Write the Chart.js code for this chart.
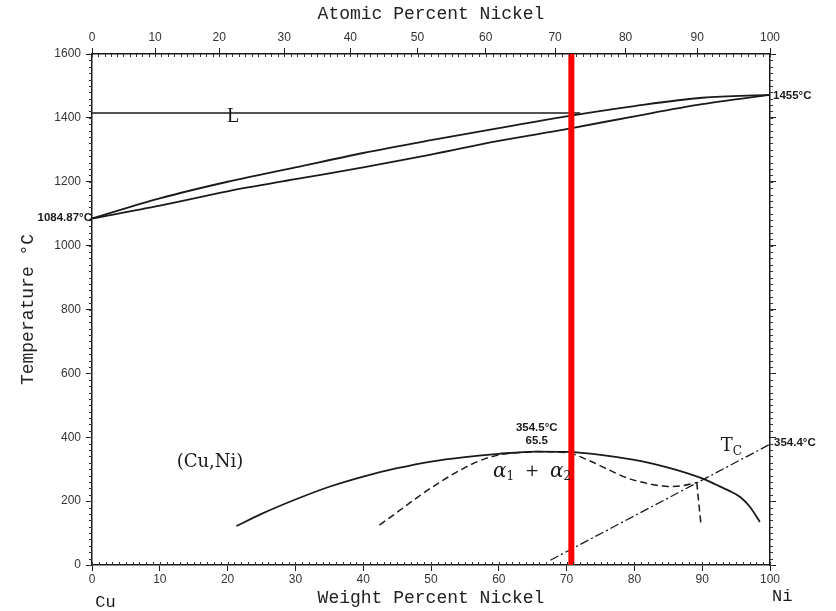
<!DOCTYPE html>
<html>
<head>
<meta charset="utf-8">
<script src="https://cdn.jsdelivr.net/npm/chart.js@4.4.1/dist/chart.umd.min.js"></script>
<style>
  html, body { margin: 0; padding: 0; background: #fff; }
</style>
</head>
<body>
<canvas id="cuNiChart" width="836" height="611"></canvas>
<script>
// Cu-Ni phase diagram, wt% Ni against temperature (C)
const boundaryWt = [0, 10, 20, 30, 40, 50, 60, 70, 80, 90, 100];
const liquidusT = [1085, 1148, 1200, 1245, 1290, 1330, 1368, 1405, 1437, 1463, 1472];
const solidusT = [1085, 1125, 1170, 1208, 1245, 1285, 1328, 1365, 1405, 1443, 1472];

// miscibility gap (solid line)
const gapWt = [21.3, 25, 30, 35, 40, 45, 50, 55, 60, 65.5, 70, 75, 80, 85, 90, 92, 94, 95.6, 97, 98.5];
const gapT = [122, 160, 205, 245, 277, 303, 324, 338, 348, 355, 354, 345, 329, 305, 271, 252, 232, 213, 183, 135];

// dashed lines inside the gap
const spinLeftWt = [42.4, 45, 48, 51, 55, 58, 61, 65.5];
const spinLeftT = [125, 165, 212, 255, 305, 333, 348, 355];
const spinRightWt = [65.5, 70, 73, 76, 79, 82, 85, 87, 89.2];
const spinRightT = [355, 352, 330, 300, 272, 255, 246, 248, 258];
const spinDropWt = [89.2, 89.8];
const spinDropT = [258, 130];

// magnetic transition Tc (dash-dot)
const curieWt = [67.6, 100];
const curieT = [15, 378];

// horizontal tie line and red marker
const tieWt = [0, 72];
const tieT = [1415, 1415];
const markerWt = [70.7, 70.7];
const markerT = [0, 1600];

const tempTicks = [0, 200, 400, 600, 800, 1000, 1200, 1400, 1600];
const weightTicks = [0, 10, 20, 30, 40, 50, 60, 70, 80, 90, 100];
const atomicTicks = [0, 10, 20, 30, 40, 50, 60, 70, 80, 90, 100];

const NI_MASS = 58.69;
const CU_MASS = 63.546;
const atToWt = (a) => 100 * a * NI_MASS / (a * NI_MASS + (100 - a) * CU_MASS);

const pts = (xs, ys) => xs.map((x, i) => ({ x, y: ys[i] }));

const INK = '#1a1a1a';
const tickFont = { family: '"Liberation Sans Narrow", "Liberation Sans", sans-serif', size: 12 };
const titleFont = { family: '"Liberation Mono", monospace', size: 18 };

const line = (data, extra) => Object.assign({
  data,
  showLine: true,
  borderColor: INK,
  borderWidth: 1.8,
  pointRadius: 0,
  fill: false,
  tension: 0,
}, extra);

// small ticks every 1% and every 20 C
const minorTicks = {
  id: 'minorTicks',
  afterDraw(chart) {
    const { ctx, chartArea: a, scales } = chart;
    ctx.save();
    ctx.strokeStyle = '#333';
    ctx.lineWidth = 1;
    ctx.beginPath();
    for (let w = 0; w <= 100; w++) {
      const px = Math.round(scales.x.getPixelForValue(w)) + 0.5;
      ctx.moveTo(px, a.bottom);
      ctx.lineTo(px, a.bottom - 3);
      const pt = Math.round(scales.x2.getPixelForValue(atToWt(w))) + 0.5;
      ctx.moveTo(pt, a.top);
      ctx.lineTo(pt, a.top + 3);
    }
    for (let t = 0; t <= 1600; t += 20) {
      const py = Math.round(scales.y.getPixelForValue(t)) + 0.5;
      ctx.moveTo(a.left, py);
      ctx.lineTo(a.left - 3, py);
      ctx.moveTo(a.right, py);
      ctx.lineTo(a.right + 3, py);
    }
    ctx.stroke();
    ctx.restore();
  },
};

// text pieces: [text, font, dy]
const drawPieces = (ctx, pieces, x, y, align) => {
  let total = 0;
  pieces.forEach((p) => { ctx.font = p[1]; total += ctx.measureText(p[0]).width; });
  let cx = align === 'center' ? x - total / 2 : (align === 'right' ? x - total : x);
  ctx.textAlign = 'left';
  pieces.forEach((p) => {
    ctx.font = p[1];
    ctx.fillText(p[0], cx, y + (p[2] || 0));
    cx += ctx.measureText(p[0]).width;
  });
};

const annotations = {
  id: 'annotations',
  afterDraw(chart) {
    const { ctx, chartArea: a, scales } = chart;
    const X = (v) => scales.x.getPixelForValue(v);
    const Y = (v) => scales.y.getPixelForValue(v);
    const serif = '"DejaVu Serif", serif';
    const bold = 'bold 11.5px "Liberation Sans", sans-serif';
    ctx.save();
    ctx.fillStyle = INK;
    ctx.textBaseline = 'middle';

    drawPieces(ctx, [['L', '20px "Liberation Serif", serif']], X(20.8), Y(1402), 'center');
    drawPieces(ctx, [['(Cu,Ni)', '18px ' + serif]], X(17.4), Y(322), 'center');
    drawPieces(ctx, [['354.5°C', bold]], X(65.6), Y(429), 'center');
    drawPieces(ctx, [['65.5', bold]], X(65.6), Y(388), 'center');
    drawPieces(ctx, [
      ['α', 'italic 20px ' + serif],
      ['1', '12px ' + serif, 5],
      ['  +  ', '17px ' + serif],
      ['α', 'italic 20px ' + serif],
      ['2', '12px ' + serif, 5],
    ], X(64.9), Y(291), 'center');
    drawPieces(ctx, [
      ['T', '18px ' + serif],
      ['C', '12px ' + serif, 6],
    ], X(94.3), Y(372), 'center');
    drawPieces(ctx, [['354.4°C', bold]], a.right + 4, Y(382), 'left');
    drawPieces(ctx, [['1455°C', bold]], a.right + 3, Y(1468), 'left');
    drawPieces(ctx, [['1084.87°C', bold]], a.left, Y(1086), 'right');
    drawPieces(ctx, [['Cu', '17px "Liberation Mono", monospace']], X(2), a.bottom + 37, 'center');
    drawPieces(ctx, [['Ni', '17px "Liberation Mono", monospace']], X(101.8), a.bottom + 31, 'center');
    ctx.restore();
  },
};

const axisBase = (extra) => Object.assign({
  type: 'linear',
  border: { display: true, color: INK, width: 1.5 },
  grid: { drawOnChartArea: false, drawTicks: true, tickLength: 6, tickColor: INK, tickWidth: 1 },
}, extra);

new Chart(document.getElementById('cuNiChart').getContext('2d'), {
  type: 'scatter',
  data: {
    datasets: [
      line(pts(markerWt, markerT), { borderColor: '#ff0000', borderWidth: 6 }),
      line(pts(boundaryWt, liquidusT), { cubicInterpolationMode: 'monotone' }),
      line(pts(boundaryWt, solidusT), { cubicInterpolationMode: 'monotone' }),
      line(pts(tieWt, tieT), { borderWidth: 1.5 }),
      line(pts(gapWt, gapT), { cubicInterpolationMode: 'monotone' }),
      line(pts(spinLeftWt, spinLeftT), { borderDash: [7, 4], cubicInterpolationMode: 'monotone', borderWidth: 1.5 }),
      line(pts(spinRightWt, spinRightT), { borderDash: [7, 4], cubicInterpolationMode: 'monotone', borderWidth: 1.5 }),
      line(pts(spinDropWt, spinDropT), { borderDash: [7, 4], borderWidth: 1.5 }),
      line(pts(curieWt, curieT), { borderDash: [9, 3, 2, 3], borderWidth: 1.3 }),
    ],
  },
  options: {
    responsive: false,
    animation: false,
    layout: { padding: 0 },
    plugins: { legend: { display: false }, tooltip: { enabled: false } },
    scales: {
      x: axisBase({
        position: 'bottom',
        min: 0,
        max: 100,
        afterBuildTicks: (scale) => { scale.ticks = weightTicks.map((v) => ({ value: v })); },
        afterFit: (scale) => { scale.height = 46; },
        ticks: { font: tickFont, color: '#333', padding: 1, maxRotation: 0, autoSkip: false, callback: (v) => String(v) },
        title: { display: true, text: 'Weight Percent Nickel', font: titleFont, color: '#222', padding: { top: 0, bottom: 2 } },
      }),
      x2: axisBase({
        position: 'top',
        min: 0,
        max: 100,
        afterBuildTicks: (scale) => { scale.ticks = atomicTicks.map((a) => ({ value: atToWt(a) })); },
        afterFit: (scale) => { scale.height = 54; },
        ticks: { font: tickFont, color: '#333', padding: 3, maxRotation: 0, autoSkip: false, callback: (v, i) => String(atomicTicks[i]) },
        title: { display: true, text: 'Atomic Percent Nickel', font: titleFont, color: '#222', padding: { top: 3, bottom: 0 } },
      }),
      y: axisBase({
        position: 'left',
        min: 0,
        max: 1600,
        afterBuildTicks: (scale) => { scale.ticks = tempTicks.map((v) => ({ value: v })); },
        afterFit: (scale) => { scale.width = 92; },
        ticks: { font: tickFont, color: '#333', padding: 5, callback: (v) => String(v) },
        title: { display: true, text: 'Temperature °C', font: titleFont, color: '#222', padding: { top: 17, bottom: 0 } },
      }),
      y2: axisBase({
        position: 'right',
        min: 0,
        max: 1600,
        afterBuildTicks: (scale) => { scale.ticks = tempTicks.map((v) => ({ value: v })); },
        afterFit: (scale) => { scale.width = 66; },
        ticks: { display: false },
      }),
    },
  },
  plugins: [minorTicks, annotations],
});
</script>
</body>
</html>
